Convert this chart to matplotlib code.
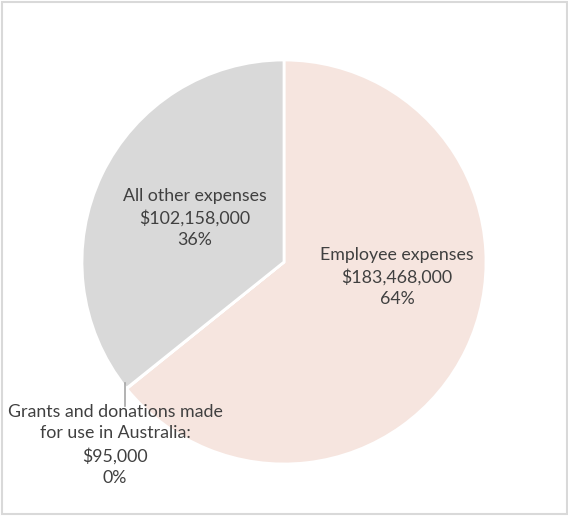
import matplotlib.pyplot as plt

labels = ["Employee expenses", "Grants and donations made\nfor use in Australia:", "All other expenses"]
values = [183468000, 95000, 102158000]
pcts = ["64%", "0%", "36%"]
colors = ["#F6E5DF", "#A5A5A5", "#D9D9D9"]

plt.rcParams['font.family'] = ['Lato', 'DejaVu Sans']

fig = plt.figure(figsize=(5.68, 5.16), dpi=100)
cx, cy, r = 284, 262, 202
ax = fig.add_axes([(cx - r) / 568, (516 - cy - r) / 516, 2 * r / 568, 2 * r / 516])
ax.pie(values, colors=colors, startangle=90, counterclock=False,
       wedgeprops=dict(edgecolor="white", linewidth=2))
ax.set_xlim(-1, 1)
ax.set_ylim(-1, 1)
ax.set_aspect("equal")

def pos(px, py):
    return (px - cx) / r, (cy - py) / r

txt = dict(ha="center", va="center", fontsize=12.8, color="#404040", linespacing=1.45)
for i, (px, py) in enumerate([(397, 277), (115, 445), (195, 218)]):
    s = labels[i] + "\n" + "${:,}".format(values[i]) + "\n" + pcts[i]
    x, y = pos(px, py)
    ax.text(x, y, s, clip_on=False, **txt)

x0, y0 = pos(125, 383)
x1, y1 = pos(125, 406)
ax.plot([x0, x1], [y0, y1], color="#A5A5A5", lw=1.2, clip_on=False)

# light border round the chart area
border = plt.Rectangle((0.004, 0.004), 0.994, 0.992, transform=fig.transFigure,
                       fill=False, edgecolor="#D9D9D9", lw=1.5)
fig.patches.append(border)

fig.savefig("out.png", dpi=100)
